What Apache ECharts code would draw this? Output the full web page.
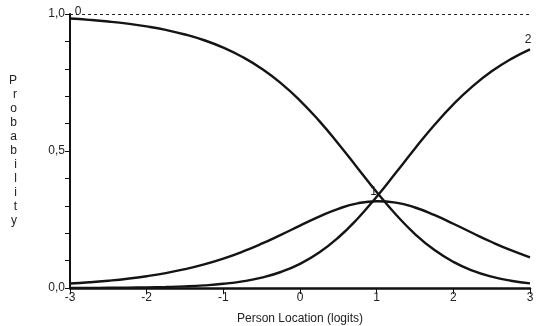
<!DOCTYPE html>
<html>
<head>
<meta charset="utf-8">
<script src="https://cdn.jsdelivr.net/npm/echarts@6/dist/echarts.min.js"></script>
<style>html,body{margin:0;padding:0;background:#fff;}#c{width:536px;height:326px;}</style>
</head>
<body>
<div id="c"></div>
<script>
var locations = [-3,-2.75,-2.5,-2.25,-2,-1.75,-1.5,-1.25,-1,-0.75,-0.5,-0.25,0,0.25,0.5,0.75,1,1.25,1.5,1.75,2,2.25,2.5,2.75,3];
var cat0 = [0.9834,0.9787,0.9726,0.9648,0.9547,0.9419,0.9253,0.9042,0.8773,0.8432,0.8005,0.7478,0.6842,0.6099,0.5267,0.4383,0.3501,0.2681,0.1969,0.1393,0.0953,0.0635,0.0414,0.0265,0.0168];
var cat1 = [0.0163,0.0208,0.0266,0.0338,0.0430,0.0545,0.0687,0.0862,0.1074,0.1326,0.1616,0.1939,0.2277,0.2607,0.2890,0.3089,0.3168,0.3115,0.2938,0.2668,0.2345,0.2006,0.1678,0.1381,0.1121];
var cat2 = [0.0003,0.0005,0.0008,0.0014,0.0023,0.0037,0.0059,0.0096,0.0153,0.0242,0.0379,0.0584,0.0881,0.1294,0.1843,0.2529,0.3331,0.4204,0.5092,0.5939,0.6702,0.7359,0.7908,0.8354,0.8711];
var categoryNames = ['0','1','2'];
var yTickLabels = [0, 0.5, 1];
var xTitle = 'Person Location (logits)';
var yTitle = 'Probability';

var FONT = '"Liberation Sans Narrow", "Liberation Sans", Arial, sans-serif';
function pairs(arr){ return locations.map(function(x,i){ return [x, arr[i]]; }); }
var allCats = [cat0, cat1, cat2];
var labelIdx = [0, locations.indexOf(1), locations.length - 1];
var labelOffsets = [[8,-7],[-3,-10],[-2,-10]];

var series = allCats.map(function(arr, k){
  var idx = labelIdx[k];
  return {
    type: 'line',
    name: categoryNames[k],
    data: pairs(arr),
    smooth: true,
    showSymbol: false,
    lineStyle: { color: '#141414', width: 2.4 },
    silent: true,
    z: 3,
    markPoint: {
      symbol: 'circle', symbolSize: 0,
      label: { show: true, formatter: categoryNames[k], color: '#222', fontFamily: FONT, fontSize: 12, offset: labelOffsets[k] },
      data: [{ coord: [locations[idx], arr[idx]] }]
    }
  };
});
series[0].markLine = {
  symbol: 'none', silent: true,
  label: { show: false },
  lineStyle: { color: '#222', type: [3,3], width: 1 },
  data: [{ yAxis: 1 }]
};

var chart = echarts.init(document.getElementById('c'));
chart.setOption({
  animation: false,
  backgroundColor: '#fff',
  grid: { left: 70, right: 6, top: 14, bottom: 38, containLabel: false, outerBoundsMode: 'none' },
  xAxis: {
    type: 'value', min: -3, max: 3, interval: 1,
    name: xTitle, nameLocation: 'middle', nameGap: 25,
    nameTextStyle: { color: '#222', fontFamily: FONT, fontSize: 12 },
    axisLine: { onZero: false, lineStyle: { color: '#111', width: 2.5 } },
    axisTick: { show: true, length: 6, lineStyle: { color: '#111', width: 1 } },
    axisLabel: { color: '#222', fontFamily: FONT, fontSize: 12, margin: 4 },
    splitLine: { show: false }
  },
  yAxis: {
    type: 'value', min: 0, max: 1, interval: 0.1,
    name: yTitle.split('').join('\n'), nameLocation: 'middle', nameGap: 53, nameRotate: 0,
    nameTextStyle: { color: '#222', fontFamily: FONT, fontSize: 12, lineHeight: 14, padding: [0,0,14,0] },
    axisLine: { show: true, onZero: false, lineStyle: { color: '#111', width: 2 } },
    axisTick: { show: true, length: 5, lineStyle: { color: '#111', width: 1 } },
    axisLabel: {
      color: '#222', fontFamily: FONT, fontSize: 12, margin: 5,
      formatter: function(v){
        for (var i=0;i<yTickLabels.length;i++){
          if (Math.abs(v - yTickLabels[i]) < 1e-6) return yTickLabels[i].toFixed(1).replace('.', ',');
        }
        return '';
      }
    },
    splitLine: { show: false }
  },
  series: series
});
</script>
</body>
</html>
